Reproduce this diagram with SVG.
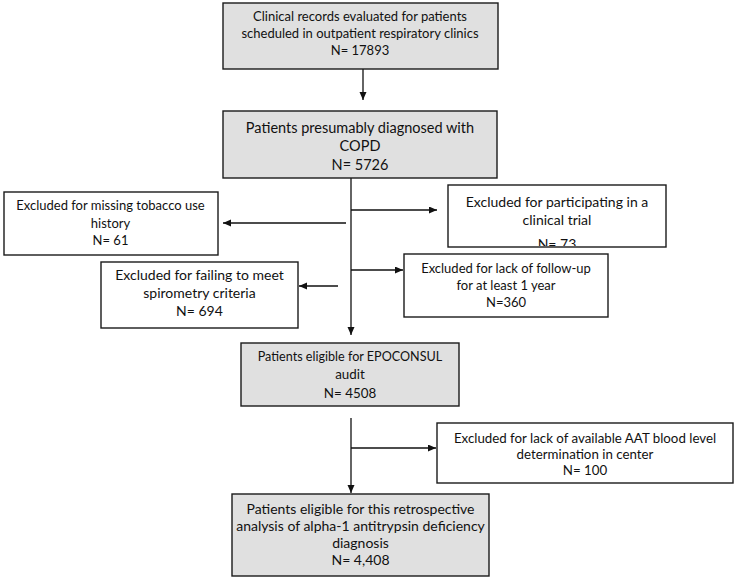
<svg xmlns="http://www.w3.org/2000/svg" width="738" height="579" viewBox="0 0 738 579">
  <style>
    .box { stroke: #1a1a1a; stroke-width: 1.4; }
    .gray { fill: #e0e0e0; }
    .white { fill: #ffffff; }
    text { font-family: Lato, "Noto Sans", "Liberation Sans", sans-serif; fill: #111; text-anchor: middle; }
    .s13 { font-size: 13px; }
    .s14 { font-size: 14px; }
    .conn { stroke: #111; stroke-width: 1.3; fill: none; marker-end: url(#arr); }
  </style>
  <defs>
    <marker id="arr" markerUnits="userSpaceOnUse" markerWidth="9" markerHeight="8" refX="8" refY="3.5" orient="auto">
      <path d="M0,0 L8,3.5 L0,7 z" fill="#111"/>
    </marker>
    <clipPath id="clipTrial"><rect x="448" y="185" width="218" height="61"/></clipPath>
  </defs>
  <rect width="738" height="579" fill="#ffffff"/>

  <g id="connectors">
    <path class="conn" d="M363,69 V100"/>
    <path class="conn" d="M351,178 V335"/>
    <path class="conn" d="M351,210 H437"/>
    <path class="conn" d="M346,223 H223"/>
    <path class="conn" d="M351,270 H403"/>
    <path class="conn" d="M338,286 H299"/>
    <path d="M351,418 V448" stroke="#111" stroke-width="1.3" fill="none"/>
    <path class="conn" d="M351,448 H436"/>
    <path class="conn" d="M351,448 V493"/>
  </g>

  <g id="n1">
    <rect class="box gray" x="223" y="3" width="275" height="66"/>
    <text class="s13" x="360" y="21">Clinical records evaluated for patients</text>
    <text class="s13" x="360" y="38">scheduled in outpatient respiratory clinics</text>
    <text class="s13" x="360" y="55">N= 17893</text>
  </g>

  <g id="n2">
    <rect class="box gray" x="223" y="111" width="274" height="67"/>
    <text class="s14" x="360" y="133" style="font-size:14.5px">Patients presumably diagnosed with</text>
    <text class="s14" x="360" y="151" style="font-size:14.5px">COPD</text>
    <text class="s14" x="360" y="169.5" style="font-size:14.5px">N= 5726</text>
  </g>

  <g id="n3">
    <rect class="box white" x="4" y="192" width="214" height="63"/>
    <text class="s13" x="110.5" y="210">Excluded for missing tobacco use</text>
    <text class="s13" x="110.5" y="228">history</text>
    <text class="s13" x="110.5" y="245">N= 61</text>
  </g>

  <g id="n4">
    <rect class="box white" x="448" y="185" width="218" height="62"/>
    <g clip-path="url(#clipTrial)">
      <text class="s14" x="557" y="207">Excluded for participating in a</text>
      <text class="s14" x="557" y="225">clinical trial</text>
      <text class="s14" x="557" y="249">N= 73</text>
    </g>
  </g>

  <g id="n5">
    <rect class="box white" x="101" y="262" width="197" height="66"/>
    <text class="s14" x="199.5" y="280">Excluded for failing to meet</text>
    <text class="s14" x="199.5" y="298">spirometry criteria</text>
    <text class="s14" x="199.5" y="316">N= 694</text>
  </g>

  <g id="n6">
    <rect class="box white" x="404" y="254" width="204" height="63"/>
    <text class="s13" x="506" y="273">Excluded for lack of follow-up</text>
    <text class="s13" x="506" y="290">for at least 1 year</text>
    <text class="s13" x="506" y="307">N=360</text>
  </g>

  <g id="n7">
    <rect class="box gray" x="241" y="343" width="218" height="63"/>
    <text class="s13" x="350" y="361" style="font-size:12.6px">Patients eligible for EPOCONSUL</text>
    <text class="s13" x="350" y="379" style="font-size:13.4px">audit</text>
    <text class="s13" x="350" y="398" style="font-size:13.4px">N= 4508</text>
  </g>

  <g id="n8">
    <rect class="box white" x="437" y="423" width="296" height="60"/>
    <text class="s13" x="585" y="443" style="font-size:13.3px">Excluded for lack of available AAT blood level</text>
    <text class="s13" x="585" y="459" style="font-size:13.3px">determination in center</text>
    <text class="s13" x="585" y="475" style="font-size:13.3px">N= 100</text>
  </g>

  <g id="n9">
    <rect class="box gray" x="232" y="494" width="257" height="82"/>
    <text class="s14" x="360.5" y="514">Patients eligible for this retrospective</text>
    <text class="s14" x="360.5" y="531">analysis of alpha-1 antitrypsin deficiency</text>
    <text class="s14" x="360.5" y="548">diagnosis</text>
    <text class="s14" x="360.5" y="565">N= 4,408</text>
  </g>
</svg>
